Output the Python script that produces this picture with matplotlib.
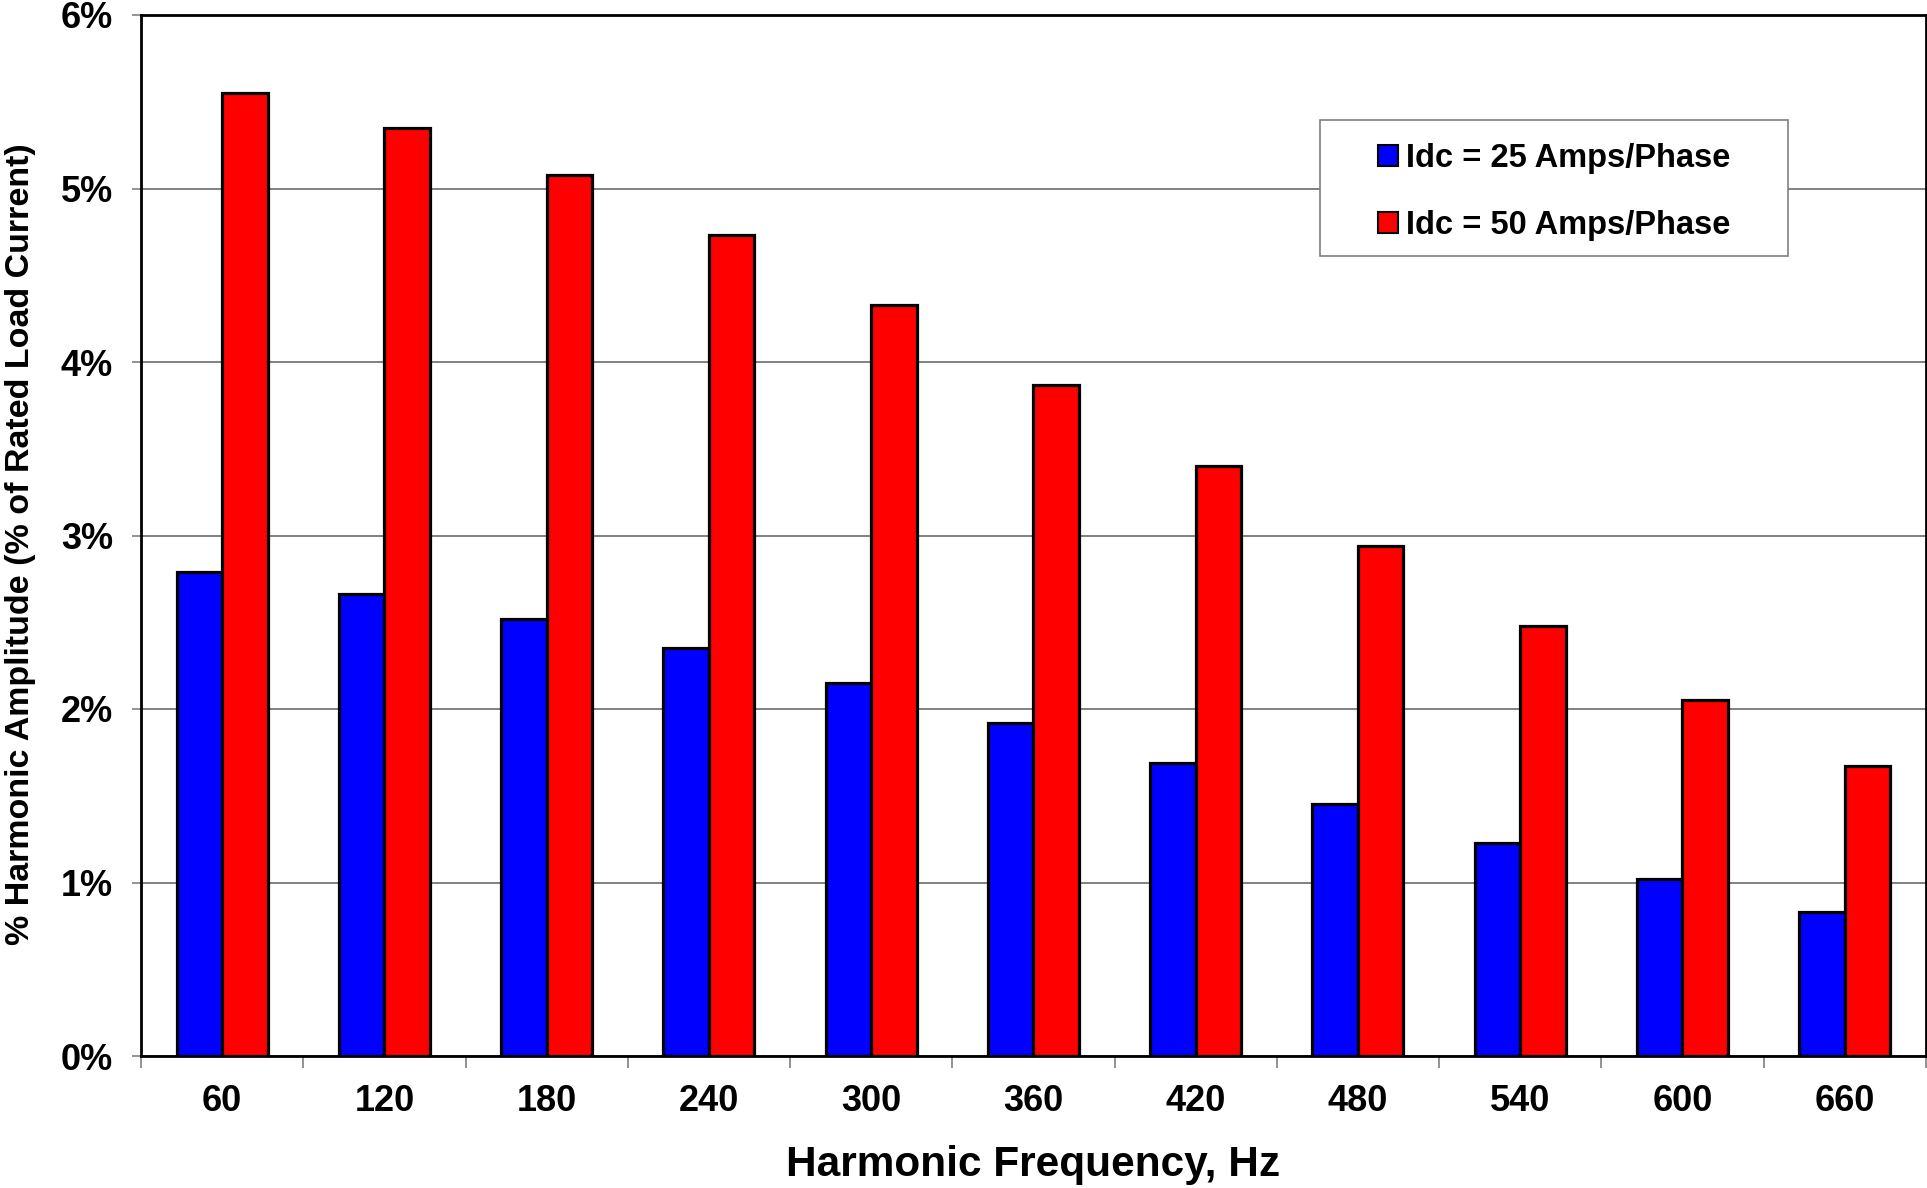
import matplotlib
matplotlib.use("Agg")
import matplotlib.pyplot as plt
import numpy as np
from matplotlib.patches import Rectangle
from matplotlib.ticker import FixedLocator, NullFormatter

# Harmonic amplitude, % of rated load current
freqs = ["60", "120", "180", "240", "300", "360", "420", "480", "540", "600", "660"]
idc_25 = [2.79, 2.66, 2.52, 2.35, 2.15, 1.92, 1.69, 1.45, 1.23, 1.02, 0.83]
idc_50 = [5.55, 5.35, 5.08, 4.73, 4.33, 3.87, 3.40, 2.94, 2.48, 2.05, 1.67]
labels = ["Idc = 25 Amps/Phase", "Idc = 50 Amps/Phase"]

plt.rcParams["font.family"] = ["Liberation Sans", "DejaVu Sans"]
plt.rcParams["font.weight"] = "bold"

W, H = 1927, 1188
PX = 72 / 100  # points per pixel at dpi 100
fig = plt.figure(figsize=(W / 100, H / 100), dpi=100)
ax = fig.add_axes([141 / W, 1 - 1056 / H, 0.9262, (1056 - 15) / H])

x = np.arange(len(freqs))
w = 0.28
ax.bar(x - w / 2, np.array(idc_25) / 100, w, color="#0000ff",
       edgecolor="black", linewidth=2.3, label=labels[0], zorder=3)
ax.bar(x + w / 2, np.array(idc_50) / 100, w, color="#ff0000",
       edgecolor="black", linewidth=2.3, label=labels[1], zorder=3)

ax.set_xlim(-0.5, len(freqs) - 0.5)
ax.set_ylim(0, 0.06)

# y axis: percent ticks with gray gridlines
yt = np.arange(0, 0.061, 0.01)
ax.set_yticks(yt)
ax.set_yticklabels([f"{int(round(v * 100))}%" for v in yt])
ax.yaxis.grid(True, color="#808080", linewidth=1.4, zorder=0)
ax.tick_params(axis="y", length=9 * PX, width=1.2, color="#808080",
               labelsize=26, pad=19 * PX)

# x axis: labels at category centres, ticks at boundaries
ax.set_xticks(x)
ax.set_xticklabels(freqs)
ax.xaxis.set_minor_locator(FixedLocator(np.arange(-0.5, len(freqs), 1.0)))
ax.xaxis.set_minor_formatter(NullFormatter())
ax.tick_params(axis="x", which="major", length=0, labelsize=26, pad=20)
ax.tick_params(axis="x", which="minor", length=12 * PX, width=1.2,
               color="#808080")

for s in ax.spines.values():
    s.set_linewidth(2)
    s.set_color("black")
    s.set_zorder(4)

fig.text((141 + 1926) / 2 / W, 1 - 1165 / H, "Harmonic Frequency, Hz",
         fontsize=30.5, fontweight="bold", ha="center", va="center")
fig.text(21 / W, 1 - 544 / H, "% Harmonic Amplitude (% of Rated Load Current)",
         fontsize=24.5, fontweight="bold", ha="center", va="center",
         rotation=90)

# legend box drawn separately so its padding can be wider than tall
bx0, bx1, by0, by1 = 1320, 1788, 120, 256
fig.patches.append(Rectangle((bx0 / W, 1 - by1 / H), (bx1 - bx0) / W,
                             (by1 - by0) / H, transform=fig.transFigure,
                             facecolor="white", edgecolor="#808080",
                             linewidth=1.2, zorder=5))
leg = fig.legend(*ax.get_legend_handles_labels(), loc="center",
                 bbox_to_anchor=((bx0 + bx1) / 2 / W,
                                 1 - ((by0 + by1) / 2 + 4) / H),
                 fontsize=23.5, frameon=False, handlelength=0.6,
                 handleheight=0.6, handletextpad=0.25, labelspacing=1.1,
                 borderpad=0)
leg.set_zorder(6)
for h in leg.legend_handles:
    h.set_linewidth(1.5)

fig.savefig("out.png", dpi=100)
